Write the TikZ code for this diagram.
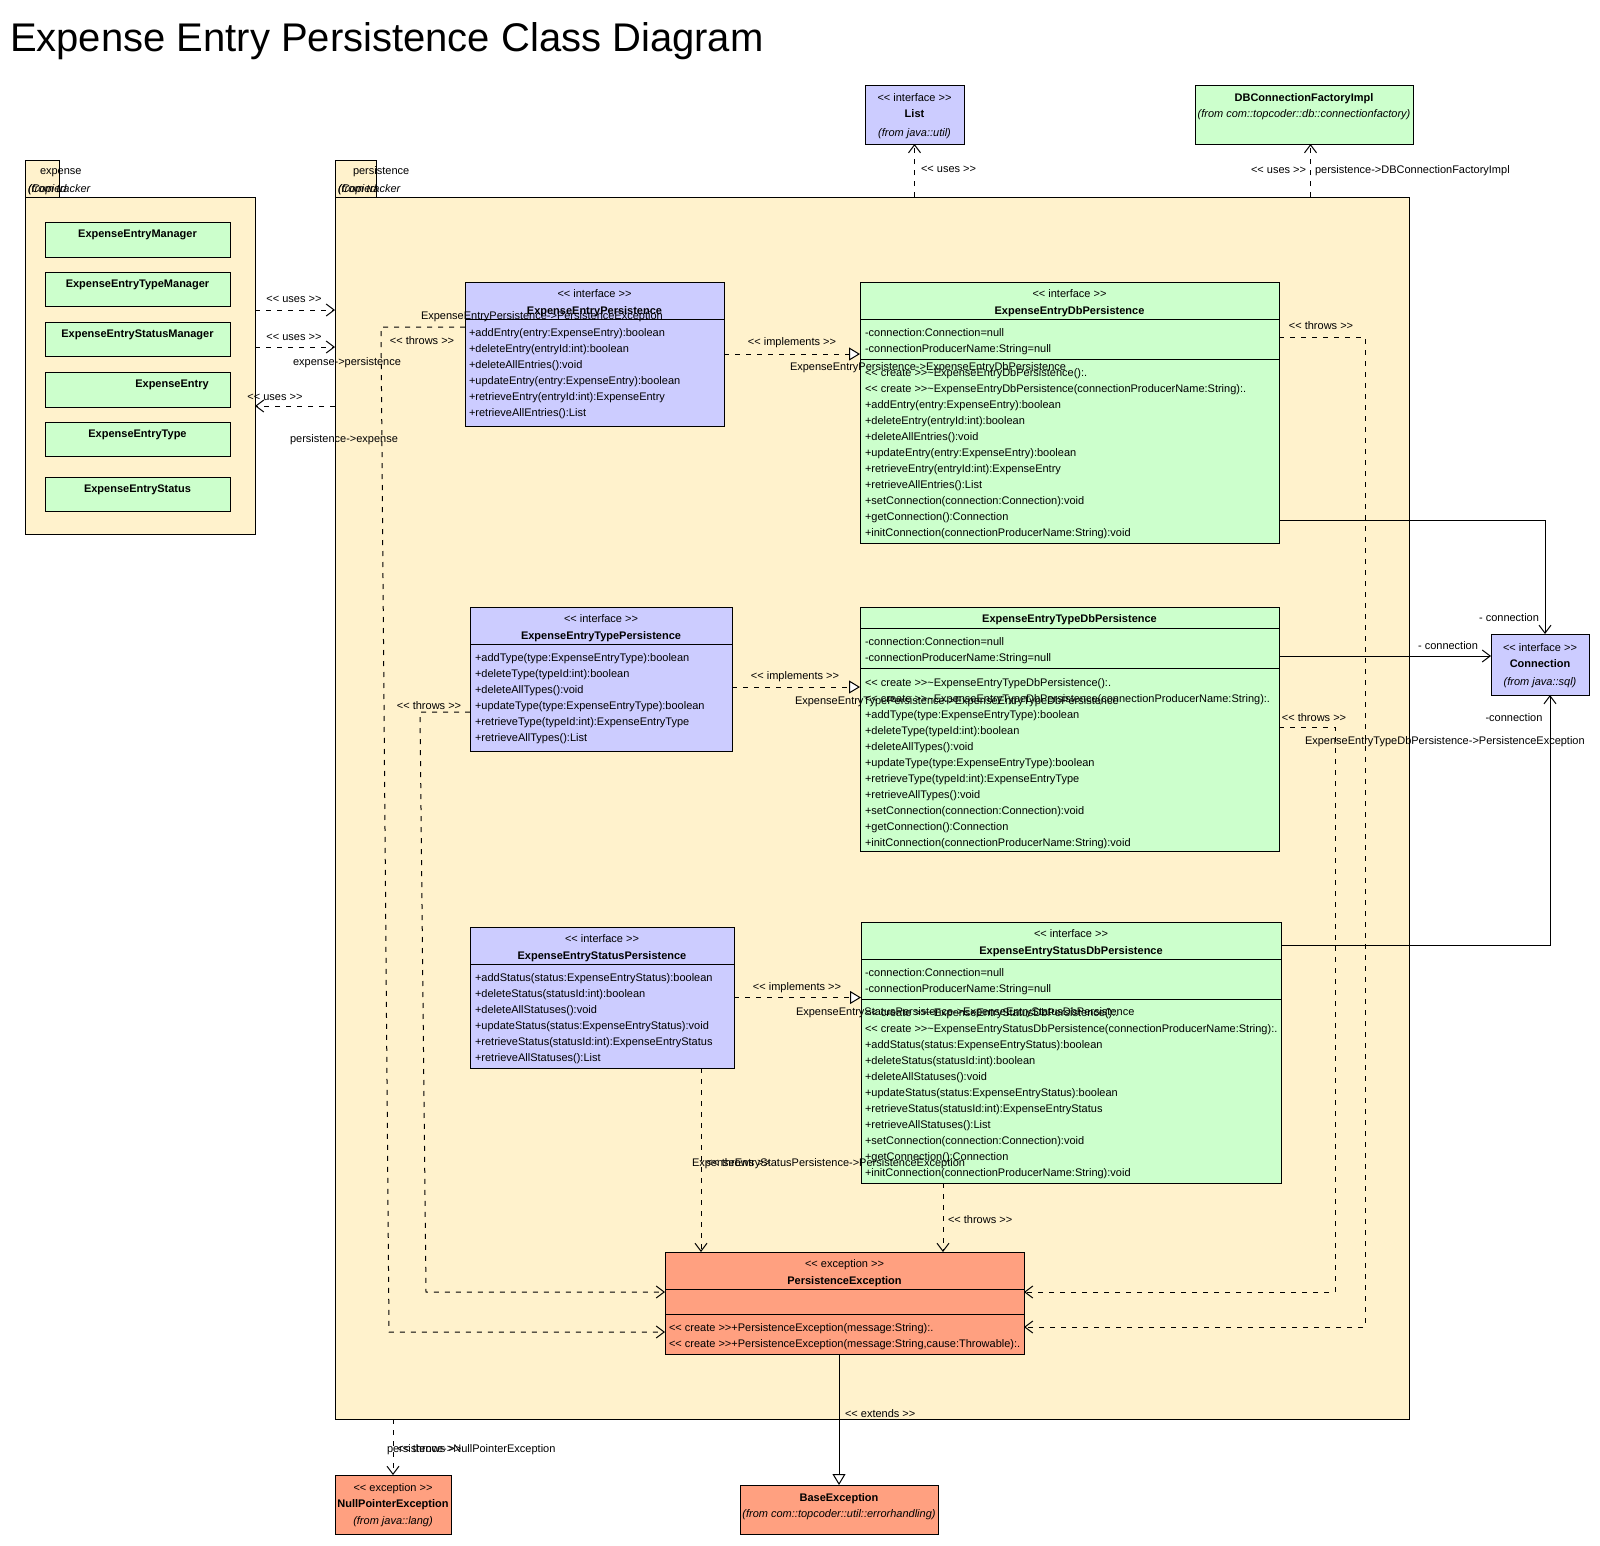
\documentclass[tikz,border=0pt]{standalone}
\usepackage{fontspec}
\setmainfont{Liberation Sans}
\usetikzlibrary{arrows.meta,calc}
\definecolor{pkg}{RGB}{255,242,204}
\definecolor{grn}{RGB}{204,255,204}
\definecolor{blu}{RGB}{204,204,255}
\definecolor{sal}{RGB}{255,160,128}
\newcommand\st[1]{<{}< #1 >{}>}
\newcommand\tl{\textasciitilde}
\newcommand\uf{\fontsize{11}{13}\selectfont}
\newcommand\cbox[6]{\node[box, fill=#2, minimum width=#5pt, minimum height=#6pt] (#1) at (#3,#4) {};}
\newcommand\hsep[2]{\draw[line width=1pt] ($(#1.north west)+(0,#2)$) -- ($(#1.north east)+(0,#2)$);}
\newcommand\mlines[4]{\foreach \mline [count=\mi from 0] in {#4} {\node[txt] (#1-\mi) at (#2,{#3+16*\mi}) {\mline};}}
\begin{document}
\begin{tikzpicture}[x=1pt,y=-1pt,
  every node/.style={inner sep=0pt, outer sep=0pt, font=\uf},
  box/.style={draw=black, line width=1pt, anchor=north west},
  txt/.style={anchor=base west},
  ctxt/.style={anchor=base},
  bold/.style={anchor=base, font=\uf\bfseries},
  ital/.style={anchor=base, font=\uf\itshape},
  dep/.style={line width=1pt, dash pattern=on 5pt off 6pt, -{Straight Barb[length=8pt,width=12pt]}},
  impl/.style={line width=1pt, dash pattern=on 5pt off 6pt, -{Triangle[open,fill=white,length=11pt,width=13pt]}},
  ext/.style={line width=1pt, -{Triangle[open,fill=white,length=11pt,width=13pt]}},
  assoc/.style={line width=1pt, -{Straight Barb[length=8pt,width=12pt]}}
]
\useasboundingbox[fill=white] (0,0) rectangle (1600,1545);
\node[anchor=base west, font=\fontsize{40}{48}\selectfont] (title) at (10,51) {Expense Entry Persistence Class Diagram};

% packages
\cbox{etab}{pkg}{25}{160}{34}{37}
\cbox{epkg}{pkg}{25}{197}{230}{337}
\cbox{ptab}{pkg}{335}{160}{41}{37}
\cbox{ppkg}{pkg}{335}{197}{1074}{1222}
\node[txt] (etabt) at (40,174) {expense};
\node[txt, font=\uf\itshape] (etabf1) at (28,192) {(Copied};
\node[txt, font=\uf\itshape] (etabf2) at (28,192) {(from tracker};
\node[txt] (ptabt) at (353,174) {persistence};
\node[txt, font=\uf\itshape] (ptabf1) at (338,192) {(Copied};
\node[txt, font=\uf\itshape] (ptabf2) at (338,192) {(from tracker};

% expense classes
\cbox{eem}{grn}{45}{222}{185}{35}
\cbox{eetm}{grn}{45}{272}{185}{34}
\cbox{eesm}{grn}{45}{322}{185}{34}
\cbox{ee}{grn}{45}{372}{185}{35}
\cbox{eet}{grn}{45}{422}{185}{34}
\cbox{ees}{grn}{45}{477}{185}{34}
\node[bold] (eemt) at (137.5,237) {ExpenseEntryManager};
\node[bold] (eetmt) at (137.5,287) {ExpenseEntryTypeManager};
\node[bold] (eesmt) at (137.5,337) {ExpenseEntryStatusManager};
\node[bold] (eet1) at (172,387) {ExpenseEntry};
\node[bold] (eett) at (137.5,437) {ExpenseEntryType};
\node[bold] (eest) at (137.5,492) {ExpenseEntryStatus};

% outside classes
\cbox{list}{blu}{865}{85}{99}{59}
\node[ctxt] (listst) at (914.5,101) {\st{interface}};
\node[bold] (listn) at (914.5,117) {List};
\node[ital] (listf) at (914.5,136) {(from java::util)};
\cbox{dbc}{grn}{1195}{85}{218}{59}
\node[bold] (dbcn) at (1304,101) {DBConnectionFactoryImpl};
\node[ital] (dbcf) at (1304,117) {(from com::topcoder::db::connectionfactory)};
\cbox{conn}{blu}{1491}{634}{98}{61}
\node[ctxt] (connst) at (1540,651) {\st{interface}};
\node[bold] (connn) at (1540,667) {Connection};
\node[ital] (connf) at (1540,685) {(from java::sql)};
\cbox{npe}{sal}{335}{1475}{116}{59}
\node[ctxt] (npest) at (393,1491) {\st{exception}};
\node[bold] (npen) at (393,1507) {NullPointerException};
\node[ital] (npef) at (393,1524) {(from java::lang)};
\cbox{base}{sal}{740}{1485}{198}{49}
\node[bold] (basen) at (839,1501) {BaseException};
\node[ital] (basef) at (839,1517) {(from com::topcoder::util::errorhandling)};

% persistence classes
\cbox{eep}{blu}{465}{282}{259}{144}
\hsep{eep}{37}
\node[ctxt] (eepst) at (594.5,297) {\st{interface}};
\node[bold] (eepn) at (594.5,314) {ExpenseEntryPersistence};
\mlines{eepm}{469}{336}{+addEntry(entry:ExpenseEntry):boolean,
 +deleteEntry(entryId:int):boolean,
 +deleteAllEntries():void,
 +updateEntry(entry:ExpenseEntry):boolean,
 +retrieveEntry(entryId:int):ExpenseEntry,
 +retrieveAllEntries():List}

\cbox{eedbp}{grn}{860}{282}{419}{261}
\hsep{eedbp}{37}
\hsep{eedbp}{77}
\node[ctxt] (eedbpst) at (1069.5,297) {\st{interface}};
\node[bold] (eedbpn) at (1069.5,314) {ExpenseEntryDbPersistence};
\mlines{eedbpa}{865}{336}{-connection:Connection=null,
 -connectionProducerName:String=null}
\mlines{eedbpm}{865}{376}{\st{create}\tl ExpenseEntryDbPersistence():.,
 \st{create}\tl ExpenseEntryDbPersistence(connectionProducerName:String):.,
 +addEntry(entry:ExpenseEntry):boolean,
 +deleteEntry(entryId:int):boolean,
 +deleteAllEntries():void,
 +updateEntry(entry:ExpenseEntry):boolean,
 +retrieveEntry(entryId:int):ExpenseEntry,
 +retrieveAllEntries():List,
 +setConnection(connection:Connection):void,
 +getConnection():Connection,
 +initConnection(connectionProducerName:String):void}

\cbox{etp}{blu}{470}{607}{262}{144}
\hsep{etp}{37}
\node[ctxt] (etpst) at (601,622) {\st{interface}};
\node[bold] (etpn) at (601,639) {ExpenseEntryTypePersistence};
\mlines{etpm}{475}{661}{+addType(type:ExpenseEntryType):boolean,
 +deleteType(typeId:int):boolean,
 +deleteAllTypes():void,
 +updateType(type:ExpenseEntryType):boolean,
 +retrieveType(typeId:int):ExpenseEntryType,
 +retrieveAllTypes():List}

\cbox{eetdbp}{grn}{860}{607}{419}{244}
\hsep{eetdbp}{21}
\hsep{eetdbp}{61}
\node[bold] (eetdbpn) at (1069.5,622) {ExpenseEntryTypeDbPersistence};
\mlines{eetdbpa}{865}{645}{-connection:Connection=null,
 -connectionProducerName:String=null}
\mlines{eetdbpm}{865}{686}{\st{create}\tl ExpenseEntryTypeDbPersistence():.,
 \st{create}\tl ExpenseEntryTypeDbPersistence(connectionProducerName:String):.,
 +addType(type:ExpenseEntryType):boolean,
 +deleteType(typeId:int):boolean,
 +deleteAllTypes():void,
 +updateType(type:ExpenseEntryType):boolean,
 +retrieveType(typeId:int):ExpenseEntryType,
 +retrieveAllTypes():void,
 +setConnection(connection:Connection):void,
 +getConnection():Connection,
 +initConnection(connectionProducerName:String):void}

\cbox{esp}{blu}{470}{927}{264}{141}
\hsep{esp}{37}
\node[ctxt] (espst) at (602,942) {\st{interface}};
\node[bold] (espn) at (602,959) {ExpenseEntryStatusPersistence};
\mlines{espm}{475}{981}{+addStatus(status:ExpenseEntryStatus):boolean,
 +deleteStatus(statusId:int):boolean,
 +deleteAllStatuses():void,
 +updateStatus(status:ExpenseEntryStatus):void,
 +retrieveStatus(statusId:int):ExpenseEntryStatus,
 +retrieveAllStatuses():List}

\cbox{esdbp}{grn}{861}{922}{420}{261}
\hsep{esdbp}{37}
\hsep{esdbp}{77}
\node[ctxt] (esdbpst) at (1071,937) {\st{interface}};
\node[bold] (esdbpn) at (1071,954) {ExpenseEntryStatusDbPersistence};
\mlines{esdbpa}{865}{976}{-connection:Connection=null,
 -connectionProducerName:String=null}
\mlines{esdbpm}{865}{1016}{\st{create}\tl ExpenseEntryStatusDbPersistence():.,
 \st{create}\tl ExpenseEntryStatusDbPersistence(connectionProducerName:String):.,
 +addStatus(status:ExpenseEntryStatus):boolean,
 +deleteStatus(statusId:int):boolean,
 +deleteAllStatuses():void,
 +updateStatus(status:ExpenseEntryStatus):boolean,
 +retrieveStatus(statusId:int):ExpenseEntryStatus,
 +retrieveAllStatuses():List,
 +setConnection(connection:Connection):void,
 +getConnection():Connection,
 +initConnection(connectionProducerName:String):void}

\cbox{pe}{sal}{665}{1252}{359}{102}
\hsep{pe}{37}
\hsep{pe}{62}
\node[ctxt] (pest) at (844.5,1267) {\st{exception}};
\node[bold] (pen) at (844.5,1284) {PersistenceException};
\mlines{pem}{669}{1331}{\st{create}+PersistenceException(message:String):.,
 {\st{create}+PersistenceException(message:String,cause:Throwable):.}}

% package dependencies
\draw[dep] ($(epkg.north east)+(0,113)$) -- ($(ppkg.north west)+(0,113)$);
\draw[dep] ($(epkg.north east)+(0,150)$) -- ($(ppkg.north west)+(0,150)$);
\draw[dep] ($(ppkg.north west)+(0,209)$) -- ($(epkg.north east)+(0,209)$);
\draw[dep] (list.south |- ppkg.north) -- (list.south);
\coordinate (dbcin) at ($(dbc.south)+(6.5,0)$);
\draw[dep] (dbcin |- ppkg.north) -- (dbcin);
\draw[dep] (npe.north |- ppkg.south) -- (npe.north);

% implements
\draw[impl] (eep.east) -- (eep.east -| eedbp.west);
\coordinate (etpo) at ($(etp.east)+(0,8)$);
\draw[impl] (etpo) -- (etpo -| eetdbp.west);
\draw[impl] (esp.east) -- (esp.east -| esdbp.west);

% throws
\coordinate (a1) at ($(eep.north west)+(0,45)$);
\coordinate (p1) at ($(pe.north west)+(0,80)$);
\draw[dep] (a1) -- ++(-84,0) -- ($(p1)+(-276,0)$) -- (p1);
\coordinate (a2) at ($(etp.north west)+(0,105)$);
\coordinate (p2) at ($(pe.north west)+(0,40)$);
\draw[dep] (a2) -- ++(-50,0) -- ($(p2)+(-239,0)$) -- (p2);
\coordinate (a3) at ($(esp.south east)+(-33,0)$);
\draw[dep] (a3) -- (a3 |- pe.north);
\coordinate (a4) at ($(esdbp.south west)+(82,0)$);
\draw[dep] (a4) -- (a4 |- pe.north);
\coordinate (a5) at ($(eedbp.north east)+(0,55)$);
\coordinate (p5) at ($(pe.north east)+(0,75)$);
\draw[dep] (a5) -- ++(86,0) -- ($(p5)+(341,0)$) -- (p5);
\coordinate (a6) at ($(eetdbp.north east)+(0,120)$);
\coordinate (p6) at ($(pe.north east)+(0,40)$);
\draw[dep] (a6) -- ++(56,0) -- ($(p6)+(311,0)$) -- (p6);

% associations to Connection
\coordinate (c1) at ($(eedbp.north east)+(0,238)$);
\coordinate (c1t) at ($(conn.north)+(5,0)$);
\draw[assoc] (c1) -| (c1t);
\coordinate (c2) at ($(conn.west)+(0,-8.5)$);
\draw[assoc] (c2 -| eetdbp.east) -- (c2);
\coordinate (c3) at ($(esdbp.north east)+(0,23)$);
\coordinate (c3t) at ($(conn.south)+(10,0)$);
\draw[assoc] (c3) -| (c3t);

% extends
\draw[ext] (base.north |- pe.south) -- (base.north);

% labels
\node[ctxt] (l1) at (294,302) {\st{uses}};
\node[ctxt] (l2) at (294,340) {\st{uses}};
\node[ctxt] (l3) at (347,365) {expense->persistence};
\node[ctxt] (l4) at (275,400) {\st{uses}};
\node[ctxt] (l5) at (344,442) {persistence->expense};
\node[txt] (l6) at (921,172) {\st{uses}};
\node[txt] (l7) at (1251,173) {\st{uses}};
\node[txt] (l8) at (1315,173) {persistence->DBConnectionFactoryImpl};
\node[ctxt] (l9) at (792,345) {\st{implements}};
\node[txt] (l10) at (790,370) {ExpenseEntryPersistence->ExpenseEntryDbPersistence};
\node[ctxt] (l11) at (795,679) {\st{implements}};
\node[txt] (l12) at (795,704) {ExpenseEntryTypePersistence->ExpenseEntryTypeDbPersistence};
\node[ctxt] (l13) at (797,990) {\st{implements}};
\node[txt] (l14) at (796,1015) {ExpenseEntryStatusPersistence->ExpenseEntryStatusDbPersistence};
\node[ctxt] (l15) at (422,344) {\st{throws}};
\node[txt] (l16) at (421,319) {ExpenseEntryPersistence->PersistenceException};
\node[ctxt] (l17) at (429,709) {\st{throws}};
\node[txt] (l18) at (692,1166) {ExpenseEntryStatusPersistence->PersistenceException};
\node[txt] (l19) at (706,1166) {\st{throws}};
\node[txt] (l20) at (948,1223) {\st{throws}};
\node[ctxt] (l21) at (1321,329) {\st{throws}};
\node[ctxt] (l22) at (1314,721) {\st{throws}};
\node[txt] (l23) at (1305,744) {ExpenseEntryTypeDbPersistence->PersistenceException};
\node[ctxt] (l24) at (1509,621) {- connection};
\node[ctxt] (l25) at (1448,649) {- connection};
\node[ctxt] (l26) at (1514,721) {-connection};
\node[txt] (l27) at (845,1417) {\st{extends}};
\node[txt] (l28) at (387,1452) {persistence->NullPointerException};
\node[txt] (l29) at (397,1452) {\st{throws}};
\end{tikzpicture}
\end{document}
